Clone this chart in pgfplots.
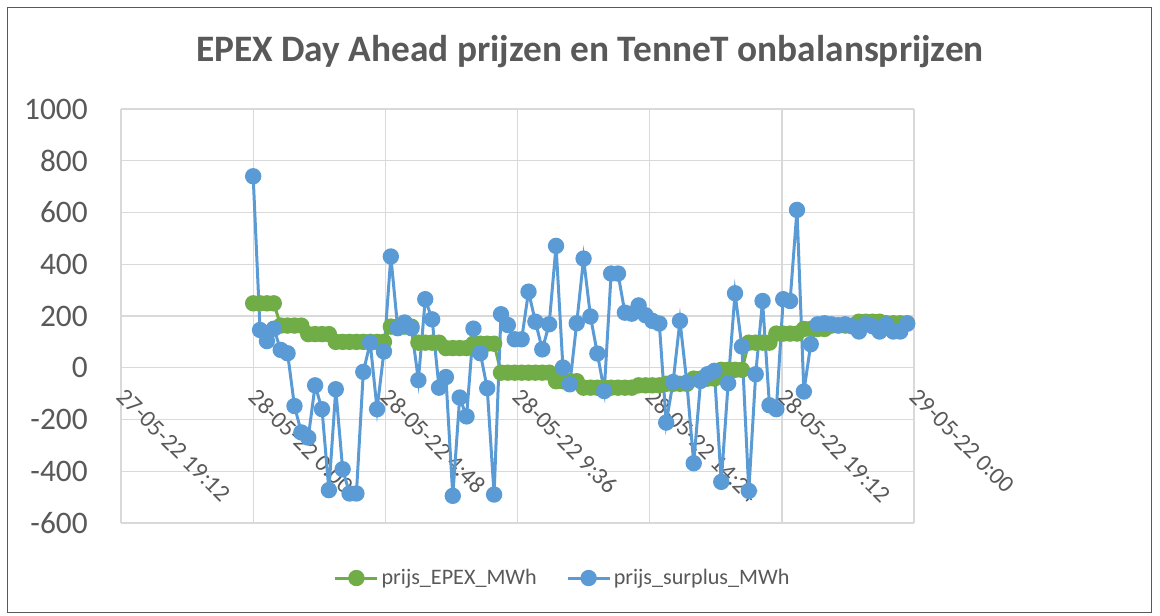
\documentclass[border=0pt]{standalone}
\usepackage{fontspec}
\setmainfont{Carlito}
\usepackage{pgfplots}
\pgfplotsset{compat=1.18}
\definecolor{epex}{HTML}{70AD47}
\definecolor{surplus}{HTML}{5B9BD5}
\definecolor{txt}{HTML}{595959}
\definecolor{gridc}{HTML}{D9D9D9}
\begin{document}
\begin{tikzpicture}
\begin{axis}[
    name=ax, at={(0,0)}, anchor=south west,
    scale only axis,
    width=594.75pt, height=310.5pt,
    xmin=-4.8, xmax=24,
    ymin=-600, ymax=1000,
    axis line style={draw=none},
    major tick length=0pt,
    xtick={-4.8,0,4.8,9.6,14.4,19.2,24},
    xticklabels={27-05-22 19:12,28-05-22 0:00,28-05-22 4:48,28-05-22 9:36,28-05-22 14:24,28-05-22 19:12,29-05-22 0:00},
    ytick={-600,-400,-200,0,200,400,600,800,1000},
    yticklabels={-600,-400,-200,0,200,400,600,800,1000},
    xticklabel style={xshift=4.5pt, yshift=102pt, rotate=-45, anchor=north west, inner sep=0pt,
        font=\fontsize{18}{22}\selectfont, text=txt},
    yticklabel style={anchor=east, inner sep=0pt, xshift=-24.75pt,
        font=\fontsize{23.5}{28}\selectfont, text=txt},
    grid=major,
    grid style={gridc, line width=1pt},
    legend columns=2,
    legend style={at={(axis description cs:0.5574,-0.1329)}, anchor=center, draw=none,
        font=\fontsize{16.6}{20}\selectfont, text=txt,
        /tikz/every even column/.append style={column sep=20pt}},
    legend image code/.code={\draw[mark repeat=2, mark phase=2] plot coordinates {(0pt,0pt) (15.75pt,0pt) (31.5pt,0pt)};},
]
\addplot[color=epex, line width=2.25pt, mark=*, mark size=5pt, mark options={fill=epex, draw=epex}]
coordinates {
(0,249)(0.25,249)(0.5,249)(0.75,249)
(1,163)(1.25,163)(1.5,163)(1.75,163)
(2,130)(2.25,130)(2.5,130)(2.75,130)
(3,100)(3.25,100)(3.5,100)(3.75,100)
(4,100)(4.25,100)(4.5,100)(4.75,100)
(5,159)(5.25,159)(5.5,159)(5.75,159)
(6,97)(6.25,97)(6.5,97)(6.75,97)
(7,76)(7.25,76)(7.5,76)(7.75,76)
(8,93)(8.25,93)(8.5,93)(8.75,93)
(9,-19)(9.25,-19)(9.5,-19)(9.75,-19)
(10,-19)(10.25,-19)(10.5,-19)(10.75,-19)
(11,-52)(11.25,-52)(11.5,-52)(11.75,-52)
(12,-77)(12.25,-77)(12.5,-77)(12.75,-77)
(13,-77)(13.25,-77)(13.5,-77)(13.75,-77)
(14,-68)(14.25,-68)(14.5,-68)(14.75,-68)
(15,-62)(15.25,-62)(15.5,-62)(15.75,-62)
(16,-42)(16.25,-42)(16.5,-42)(16.75,-42)
(17,-8)(17.25,-8)(17.5,-8)(17.75,-8)
(18,97)(18.25,97)(18.5,97)(18.75,97)
(19,132)(19.25,132)(19.5,132)(19.75,132)
(20,150)(20.25,150)(20.5,150)(20.75,150)
(21,163)(21.25,163)(21.5,163)(21.75,163)
(22,178)(22.25,178)(22.5,178)(22.75,178)
(23,172)(23.25,172)(23.5,172)(23.75,172)
};
\addlegendentry{prijs\_EPEX\_MWh}
\addplot[color=surplus, line width=2.25pt, mark=*, mark size=5pt, mark options={fill=surplus, draw=surplus}]
coordinates {
(0,740)(0.25,146)(0.5,103)(0.75,151)
(1,69)(1.25,56)(1.5,-148)(1.75,-250)
(2,-270)(2.25,-68)(2.5,-160)(2.75,-473)
(3,-83)(3.25,-392)(3.5,-486)(3.75,-486)
(4,-16)(4.25,97)(4.5,-160)(4.75,63)
(5,430)(5.25,153)(5.5,175)(5.75,153)
(6,-48)(6.25,265)(6.5,187)(6.75,-77)
(7,-36)(7.25,-495)(7.5,-115)(7.75,-188)
(8,151)(8.25,56)(8.5,-79)(8.75,-490)
(9,207)(9.25,165)(9.5,110)(9.75,110)
(10,294)(10.25,178)(10.5,71)(10.75,168)
(11,471)(11.25,1)(11.5,-64)(11.75,172)
(12,422)(12.25,198)(12.5,55)(12.75,-90)
(13,364)(13.25,364)(13.5,213)(13.75,209)
(14,241)(14.25,203)(14.5,181)(14.75,171)
(15,-212)(15.25,-55)(15.5,181)(15.75,-57)
(16,-369)(16.25,-51)(16.5,-25)(16.75,-12)
(17,-441)(17.25,-60)(17.5,288)(17.75,82)
(18,-476)(18.25,-25)(18.5,258)(18.75,-145)
(19,-160)(19.25,265)(19.5,258)(19.75,610)
(20,-92)(20.25,91)(20.5,168)(20.75,172)
(21,168)(21.25,164)(21.5,168)(21.75,160)
(22,140)(22.25,168)(22.5,160)(22.75,140)
(23,168)(23.25,140)(23.5,140)(23.75,170)
};
\addlegendentry{prijs\_surplus\_MWh}
\end{axis}
\node[font=\fontsize{28}{32}\selectfont\bfseries, text=txt] at (351.75pt,353.25pt) {EPEX Day Ahead prijzen en TenneT onbalansprijzen};
\draw[black!65, line width=0.75pt] (-84.75pt,-66.75pt) rectangle (772.5pt,386.25pt);
\pgfresetboundingbox
\path[use as bounding box] (-90.75pt,-69pt) rectangle (779.25pt,392.25pt);
\end{tikzpicture}
\end{document}
